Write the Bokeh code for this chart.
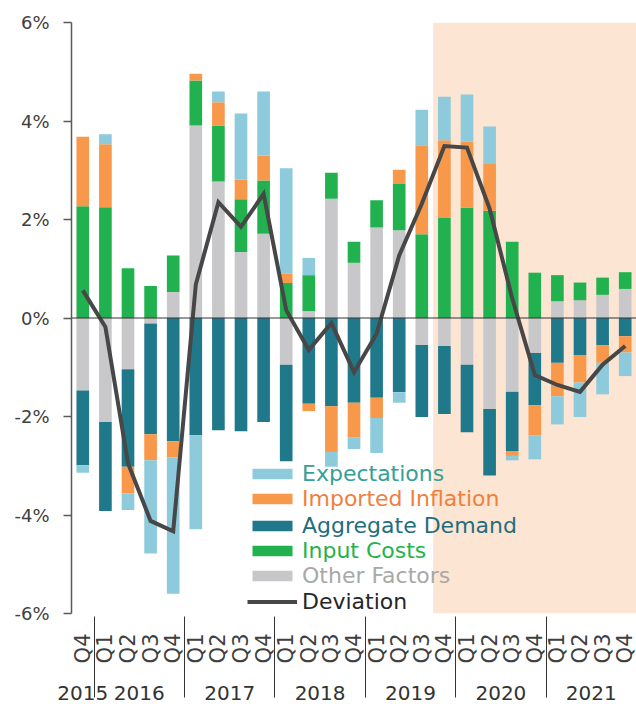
import math
from bokeh.plotting import figure
from bokeh.models import (FactorRange, Range1d, Span, BoxAnnotation, Legend, LegendItem,
                          ColumnDataSource, FixedTicker, PrintfTickFormatter)
from bokeh.embed import file_html
from bokeh.resources import INLINE

# ---- data ----
years = ["2015", "2016", "2017", "2018", "2019", "2020", "2021"]
quarters = ["Q1", "Q2", "Q3", "Q4"]
factors = [("2015", "Q4")] + [(y, q) for y in years[1:] for q in quarters]

expectations = [-0.15, 0.20, -0.34, -1.89, -2.77, -1.91, 0.22, 1.34, 1.30, 2.14, 0.35, -0.30, -0.23,
                -0.71, -0.21, 0.72, 0.88, 0.96, 0.75, -0.09, -0.49, -0.57, -0.70, -0.64, -0.48]
imported = [1.41, 1.28, -0.54, -0.53, -0.33, 0.14, 0.47, 0.40, 0.51, 0.19, -0.15, -0.93, -0.71,
            -0.41, 0.29, 1.81, 1.58, 1.34, 0.96, -0.10, -0.61, -0.68, -0.55, -0.36, -0.33]
aggregate = [-1.52, -1.81, -1.98, -2.25, -2.50, -2.38, -2.28, -2.30, -2.11, -1.96, -1.74, -1.79, -1.72,
             -1.62, -1.51, -1.46, -1.38, -1.37, -1.35, -1.20, -1.06, -0.91, -0.76, -0.55, -0.37]
input_costs = [2.27, 2.25, 1.01, 0.65, 0.74, 0.91, 1.14, 1.07, 1.08, 0.71, 0.73, 0.53, 0.43,
               0.55, 0.94, 1.70, 2.03, 2.24, 2.18, 1.55, 0.92, 0.53, 0.36, 0.35, 0.34]
other = [-1.47, -2.11, -1.04, -0.11, 0.53, 3.91, 2.77, 1.34, 1.71, -0.95, 0.14, 2.42, 1.12,
         1.84, 1.78, -0.55, -0.57, -0.95, -1.85, -1.50, -0.71, 0.34, 0.36, 0.47, 0.59]
deviation = [0.56, -0.18, -2.95, -4.12, -4.33, 0.68, 2.35, 1.85, 2.52, 0.16, -0.65, -0.10, -1.10,
             -0.32, 1.27, 2.32, 3.49, 3.46, 2.22, 0.40, -1.16, -1.36, -1.50, -0.95, -0.57]
y_ticks = [-6, -4, -2, 0, 2, 4, 6]
shade_start = ("2019", "Q4")

# ---- styling ----
FONT = "DejaVu Sans"
C_EXP, C_IMP, C_AGG, C_INP, C_OTH, C_DEV = "#8CCADC", "#F7984A", "#20798A", "#21B24F", "#C8C8CA", "#474747"

series = [("other", other, C_OTH), ("aggregate", aggregate, C_AGG), ("input", input_costs, C_INP),
          ("imported", imported, C_IMP), ("expect", expectations, C_EXP)]

data = {"x": factors, "dev": deviation}
for name, vals, _ in series:
    data[name + "_pos"] = [max(v, 0) for v in vals]
    data[name + "_neg"] = [min(v, 0) for v in vals]
src = ColumnDataSource(data)

xr = FactorRange(factors=factors, factor_padding=0, group_padding=0, subgroup_padding=0, range_padding=0)
p = figure(x_range=xr, y_range=Range1d(-6, 6), width=636, height=704,
           output_backend="svg", toolbar_location=None,
           min_border_left=71, min_border_right=0, min_border_top=22, min_border_bottom=91)
p.outline_line_color = None
p.xgrid.visible = False
p.ygrid.visible = False
p.background_fill_color = "white"
p.border_fill_color = "white"

shade_idx = factors.index(shade_start)
p.add_layout(BoxAnnotation(left=shade_idx, fill_color="#FDE5D3", fill_alpha=1.0,
                           line_color=None, level="underlay"))

pos_r = p.vbar_stack([n + "_pos" for n, _, _ in series], x="x", width=0.56,
                     color=[c for _, _, c in series], line_color=None, source=src)
neg_r = p.vbar_stack([n + "_neg" for n, _, _ in series], x="x", width=0.56,
                     color=[c for _, _, c in series], line_color=None, source=src)

p.add_layout(Span(location=0, dimension="width", line_color="#333333", line_width=1))

dev_r = p.line(x="x", y="dev", source=src, line_color=C_DEV, line_width=4, line_join="miter")

# y axis
ya = p.yaxis[0]
ya.ticker = FixedTicker(ticks=y_ticks)
ya.formatter = PrintfTickFormatter(format="%d%%")
ya.axis_line_color = "#5a5a5a"
ya.axis_line_width = 1.5
ya.major_tick_line_color = "#5a5a5a"
ya.major_tick_line_width = 1.5
ya.major_tick_out = 8
ya.major_tick_in = 0
ya.minor_tick_line_color = None
ya.major_label_standoff = 14
ya.major_label_text_font = FONT
ya.major_label_text_font_size = "18px"
ya.major_label_text_color = "#404040"

# x axis
xa = p.xaxis[0]
xa.axis_line_color = None
xa.major_tick_line_color = None
xa.major_tick_out = 0
xa.major_tick_in = 0
xa.minor_tick_line_color = None
xa.major_label_orientation = math.pi / 2
xa.major_label_text_font = FONT
xa.major_label_text_font_size = "21px"
xa.major_label_text_color = "#404040"
xa.major_label_standoff = 20
xa.group_label_orientation = "horizontal"
xa.group_text_font = FONT
xa.group_text_font_size = "20px"
xa.group_text_font_style = "normal"
xa.group_text_color = "#333333"
xa.separator_line_color = "#333333"
xa.separator_line_width = 1

# legends (one per item so each label has its own colour)
legend_specs = [("Expectations", pos_r[4], "#35A096", 140.5),
                ("Imported Inflation", pos_r[3], "#F07F3C", 114.7),
                ("Aggregate Demand", pos_r[1], "#1F6E7E", 88.3),
                ("Input Costs", pos_r[2], "#25B24A", 63.5),
                ("Other Factors", pos_r[0], "#A8A8A8", 37.7),
                ("Deviation", dev_r, "#262626", 12.0)]
for label, rend, col, yc in legend_specs:
    lg = Legend(items=[LegendItem(label=label, renderers=[rend])],
                location=(176, yc - 13), padding=0, margin=0, spacing=0,
                border_line_color=None, background_fill_alpha=0,
                glyph_width=50, glyph_height=13, label_height=13, label_standoff=5,
                label_text_font=FONT, label_text_font_size="22px", label_text_color=col)
    p.add_layout(lg)

open("out.html", "w").write(file_html(p, INLINE))
